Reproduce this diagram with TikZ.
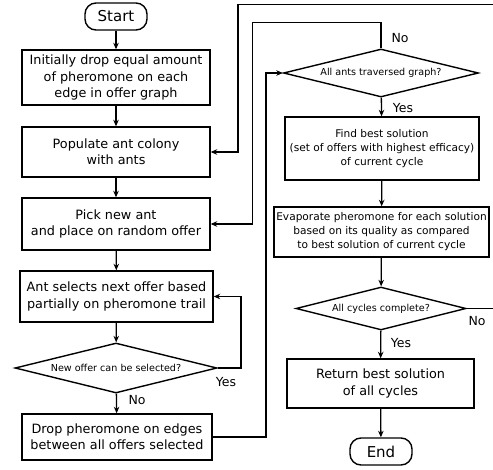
\documentclass[tikz,border=0pt]{standalone}
\usepackage{fontspec}
\setmainfont{DejaVu Sans}
\usetikzlibrary{shapes.geometric,arrows.meta}
\begin{document}
\begin{tikzpicture}[x=1pt,y=-1pt,
  box/.style={draw,line width=1.4pt,align=center,inner sep=0pt,font=\fontsize{12.8}{16.3}\selectfont},
  sbox/.style={draw,line width=1.4pt,align=center,inner sep=0pt,font=\fontsize{10.6}{14}\selectfont},
  term/.style={draw,line width=1.4pt,rounded corners=11pt,minimum width=62pt,minimum height=27pt,inner sep=0pt,font=\fontsize{15}{18}\selectfont},
  dec/.style={draw,diamond,line width=1.4pt,shape aspect=4,inner sep=0pt,font=\fontsize{9.6}{11}\selectfont},
  conn/.style={line width=1.3pt,-{Stealth[length=6.5pt,width=5.5pt]}},
  line/.style={line width=1.3pt},
  lbl/.style={font=\fontsize{12.5}{14}\selectfont,inner sep=0pt}]
\useasboundingbox (0,0) rectangle (493,469);
\clip (0,0) rectangle (493,469);

\node[term] (start) at (116,16.5) {Start};
\node[box,minimum width=188pt,minimum height=55pt] (b1) at (116,77.5) {Initially drop equal amount\\of pheromone on each\\edge in offer graph};
\node[box,minimum width=188pt,minimum height=50pt] (b2) at (116,152) {Populate ant colony\\with ants};
\node[box,minimum width=188pt,minimum height=52pt] (b3) at (116,224) {Pick new ant\\and place on random offer};
\node[box,minimum width=193pt,minimum height=51pt] (b4) at (116.5,296.5) {Ant selects next offer based\\partially on pheromone trail};
\node[dec,minimum width=202pt,minimum height=50pt] (d1) at (116,368) {New offer can be selected?};
\node[box,minimum width=190pt,minimum height=46pt] (b5) at (117,437) {Drop pheromone on edges\\between all offers selected};

\node[dec,minimum width=195pt,minimum height=48pt] (d2) at (381,73) {All ants traversed graph?};
\node[sbox,minimum width=194pt,minimum height=63pt] (b6) at (382,148.5) {Find best solution\\(set of offers with highest efficacy)\\of current cycle};
\node[sbox,minimum width=215pt,minimum height=50pt] (b7) at (381.5,232) {Evaporate pheromone for each solution\\based on its quality as compared\\to best solution of current cycle};
\node[dec,minimum width=170pt,minimum height=43pt] (d3) at (381,308.5) {All cycles complete?};
\node[box,minimum width=187pt,minimum height=49pt] (b8) at (380.5,383.5) {Return best solution\\of all cycles};
\node[term] (end) at (381,451.5) {End};

\coordinate (c1) at (241,368);
\coordinate (c2) at (241,296.5);
\coordinate (c3) at (266,437);
\coordinate (c4) at (266,73);
\coordinate (c5) at (381,22.5);
\coordinate (c6) at (252.5,22.5);
\coordinate (c7) at (252.5,224);
\coordinate (c8) at (505,308.5);
\coordinate (c9) at (505,4.5);
\coordinate (c10) at (238,4.5);
\coordinate (c11) at (238,152);

\draw[conn] (start) -- (b1);
\draw[conn] (b1) -- (b2);
\draw[conn] (b2) -- (b3);
\draw[conn] (b3) -- (b4);
\draw[conn] (b4) -- (d1);
\draw[conn] (d1) -- (b5);
\draw[conn] (d1.east) -- (c1) -- (c2) -- (b4.east);
\draw[conn] (b5.east) -- (c3) -- (c4) -- (d2.west);
\draw[conn] (d2.north) -- (c5) -- (c6) -- (c7) -- (b3.east);
\draw[conn] (d2) -- (b6);
\draw[conn] (b6) -- (b7);
\draw[conn] (b7) -- (d3);
\draw[conn] (d3) -- (b8);
\draw[conn] (b8) -- (end);
\draw[conn] (d3.east) -- (c8) -- (c9) -- (c10) -- (c11) -- (b2.east);

\node[lbl] (l1) at (137,400) {No};
\node[lbl] (l2) at (226,382) {Yes};
\node[lbl] (l3) at (400,38) {No};
\node[lbl] (l4) at (403,108) {Yes};
\node[lbl] (l5) at (401,343) {Yes};
\node[lbl] (l6) at (477,321) {No};
\end{tikzpicture}
\end{document}
